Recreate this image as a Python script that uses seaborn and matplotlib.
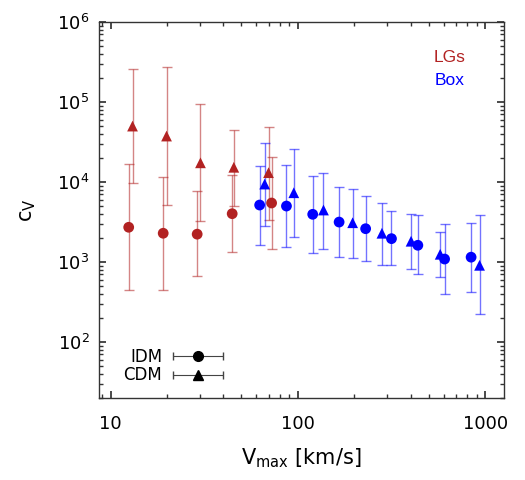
import numpy as np
import pandas as pd
import matplotlib
matplotlib.use("Agg")
import matplotlib.pyplot as plt
from matplotlib.legend_handler import HandlerErrorbar
import seaborn as sns

# ── data ────────────────────────────────────────────────────────────────────
lg_idm_v   = [12.5, 19.1, 29.0, 44.6, 72.4]
lg_idm_c   = [2720, 2290, 2230, 4020, 5470]
lg_idm_hi  = [16800, 11600, 7750, 12200, 20700]
lg_idm_lo  = [450, 450, 660, 1320, 1440]

lg_cdm_v   = [13.1, 19.9, 30.2, 45.5, 69.7]
lg_cdm_c   = [50100, 37600, 17400, 15300, 13100]
lg_cdm_hi  = [258000, 271000, 93600, 44700, 49100]
lg_cdm_lo  = [9640, 5160, 3230, 5060, 3350]

box_idm_v  = [62.5, 86.9, 120, 166, 230, 316, 437, 607, 841]
box_idm_c  = [5160, 5010, 3950, 3160, 2610, 1960, 1620, 1090, 1150]
box_idm_hi = [16000, 16400, 11900, 8590, 6740, 4300, 3840, 2960, 3050]
box_idm_lo = [1630, 1530, 1310, 1170, 1030, 910, 700, 395, 426]

box_cdm_v  = [66.5, 95.1, 137, 196, 281, 402, 575, 933]
box_cdm_c  = [9440, 7350, 4470, 3100, 2290, 1820, 1250, 910]
box_cdm_hi = [31000, 25800, 13100, 8240, 5420, 3950, 2390, 3840]
box_cdm_lo = [2820, 2040, 1470, 1110, 920, 810, 655, 222]

RED  = "#B22222"
BLUE = "#0000FF"

sns.set_theme(style="ticks")
plt.rcParams.update({
    "font.family": "DejaVu Sans",
    "text.color": "black", "axes.labelcolor": "black",
    "xtick.color": "#333333", "ytick.color": "#333333",
    "xtick.labelcolor": "black", "ytick.labelcolor": "black",
    "xtick.direction": "in", "ytick.direction": "in",
    "xtick.top": True, "ytick.right": True,
    "axes.edgecolor": "#333333", "axes.linewidth": 1.0,
    "xtick.major.size": 5, "ytick.major.size": 5,
    "xtick.minor.size": 3, "ytick.minor.size": 3,
})

sets = [
    ("LGs", "IDM", lg_idm_v, lg_idm_c, lg_idm_lo, lg_idm_hi),
    ("LGs", "CDM", lg_cdm_v, lg_cdm_c, lg_cdm_lo, lg_cdm_hi),
    ("Box", "IDM", box_idm_v, box_idm_c, box_idm_lo, box_idm_hi),
    ("Box", "CDM", box_cdm_v, box_cdm_c, box_cdm_lo, box_cdm_hi),
]
rows = []
for sample, model, v, c, lo, hi in sets:
    for vi, ci, li, hi_ in zip(v, c, lo, hi):
        rows.append(dict(sample=sample, model=model, v=vi, c=ci, lo=li, hi=hi_))
df = pd.DataFrame(rows)

fig = plt.figure(figsize=(5.25, 4.8), dpi=100)
ax = fig.add_axes([0.189, 0.171, 0.771, 0.783])
ax.set_xscale("log")
ax.set_yscale("log")

colors = {"LGs": RED, "Box": BLUE}
for (sample, model), g in df.groupby(["sample", "model"], sort=False):
    ax.errorbar(g["v"], g["c"],
                yerr=[g["c"] - g["lo"], g["hi"] - g["c"]],
                fmt="none", ecolor=colors[sample], alpha=0.55,
                elinewidth=1.0, capsize=3.5, capthick=1.0, zorder=2)

sns.scatterplot(data=df, x="v", y="c", hue="sample", style="model",
                palette=colors, markers={"IDM": "o", "CDM": "^"},
                s=60, edgecolor="none", legend=False, ax=ax, zorder=3)

ax.set_xlim(8.7, 1260)
ax.set_ylim(20, 1e6)

ax.set_xlabel(r"V$_{\rm max}$ [km/s]", fontsize=15, labelpad=10)
ax.set_ylabel(r"c$_{\rm V}$", fontsize=15, labelpad=14)
ax.tick_params(labelsize=13, which="both", pad=7)
ax.tick_params(axis="x", which="both", pad=12)
ax.xaxis.set_major_formatter(matplotlib.ticker.FuncFormatter(lambda x, p: f"{x:g}"))

ax.text(0.865, 0.895, "LGs", color=RED, fontsize=12.5, ha="center",
        transform=ax.transAxes, family="Liberation Sans")
ax.text(0.865, 0.833, "Box", color=BLUE, fontsize=12.5, ha="center",
        transform=ax.transAxes, family="Liberation Sans")

# legend with horizontal error-bar handles
h_idm = ax.errorbar([np.nan], [np.nan], xerr=[[np.nan], [np.nan]], fmt="o",
                    color="black", ms=7, elinewidth=0.8, capsize=3, ecolor="#444444")
h_cdm = ax.errorbar([np.nan], [np.nan], xerr=[[np.nan], [np.nan]], fmt="^",
                    color="black", ms=7, elinewidth=0.8, capsize=3, ecolor="#444444")
ax.legend([h_idm, h_cdm], ["IDM", "CDM"], loc="lower left",
          bbox_to_anchor=(0.023, -0.004), frameon=False, markerfirst=False,
          fontsize=12, handlelength=3.1, handletextpad=0.6, labelspacing=0.02,
          handler_map={type(h_idm): HandlerErrorbar(xerr_size=1.5)})

fig.savefig("out.png", dpi=100)
